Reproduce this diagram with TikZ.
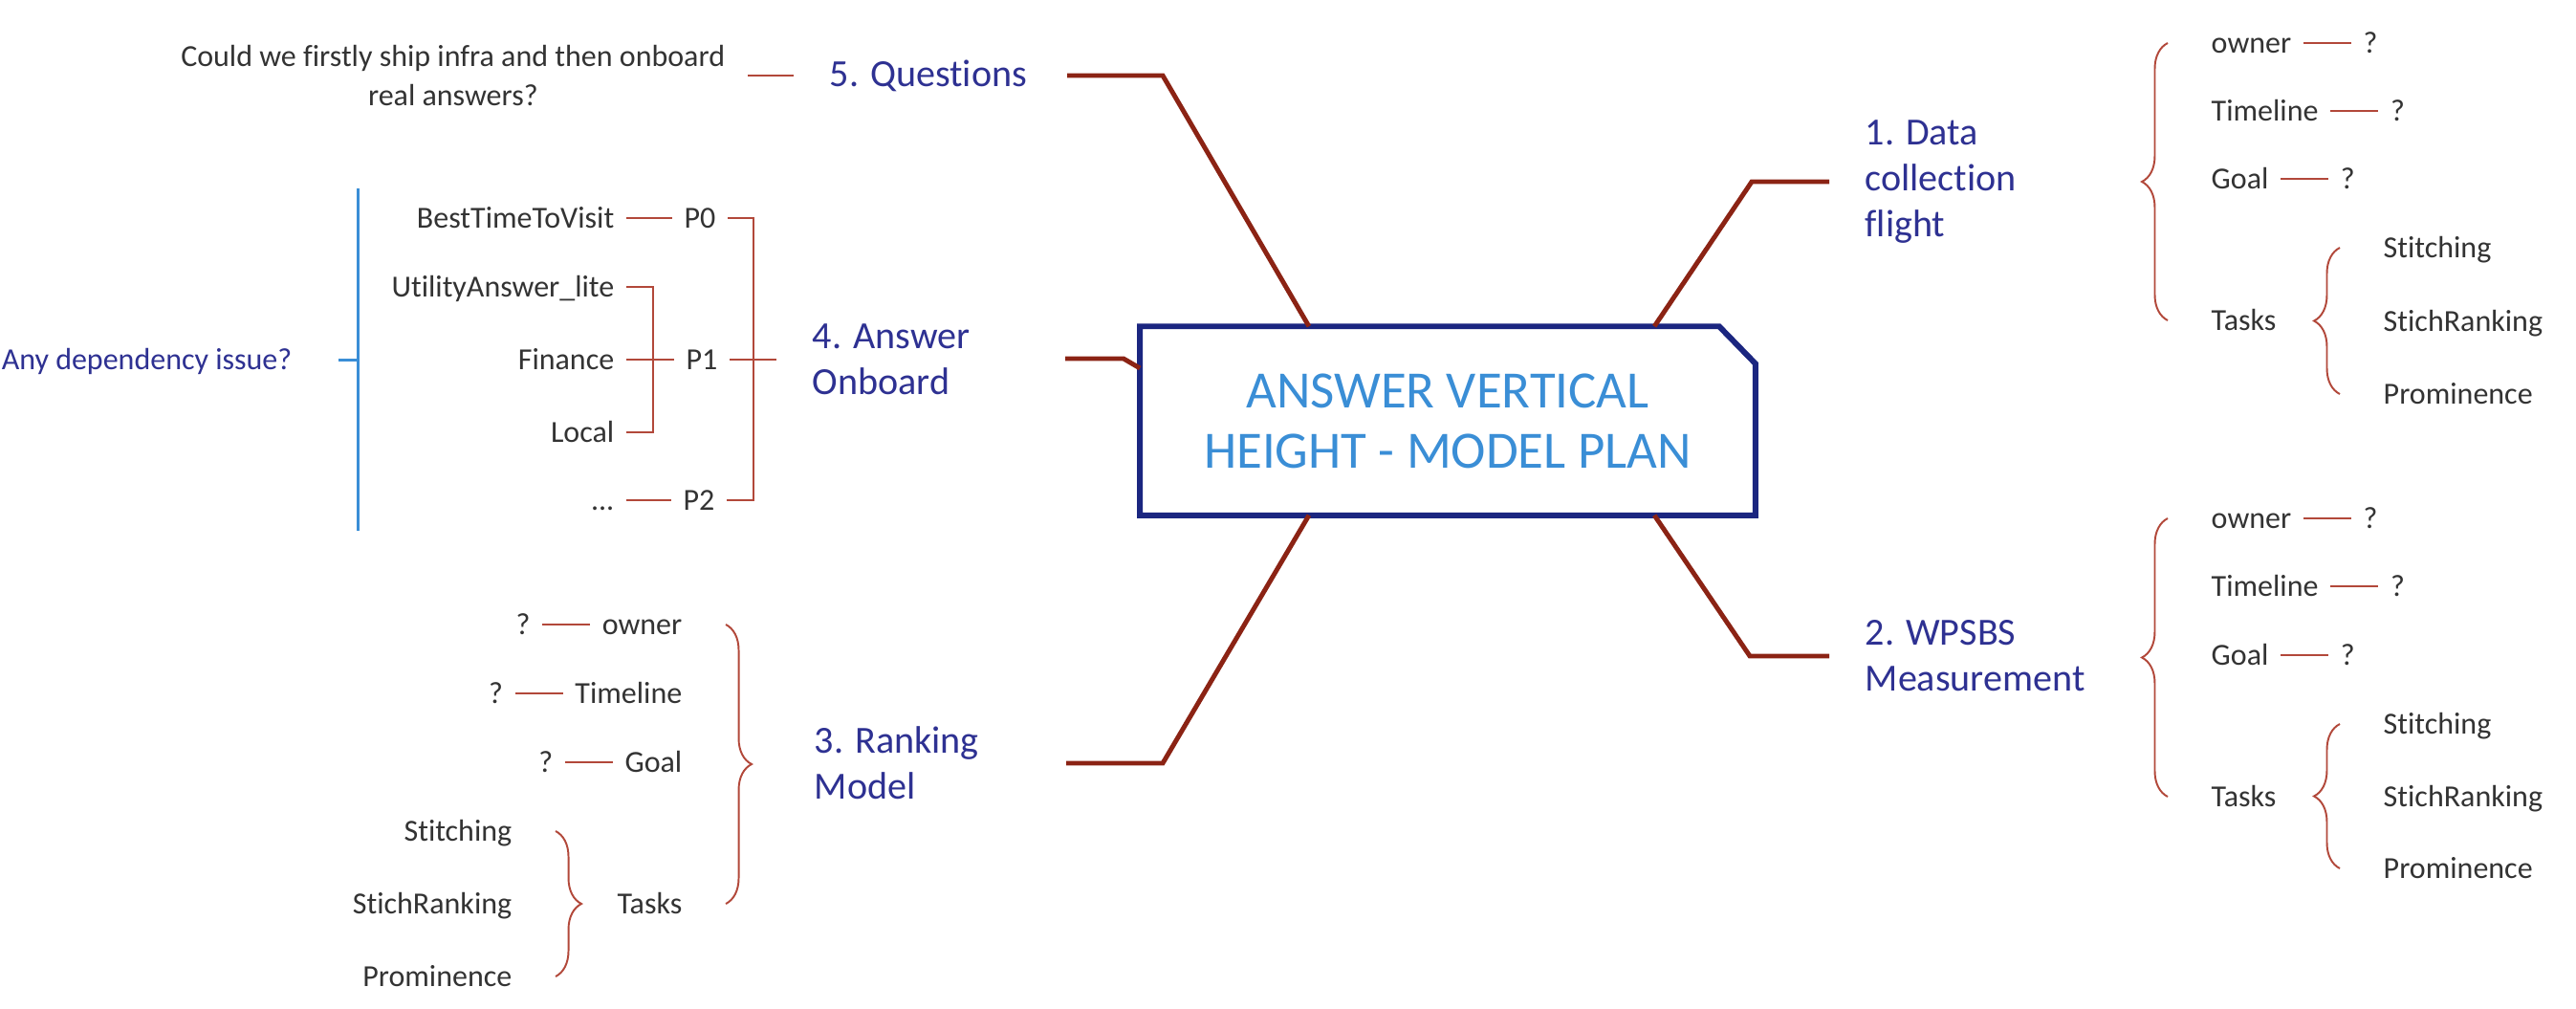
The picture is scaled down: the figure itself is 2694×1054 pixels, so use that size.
\documentclass[tikz,border=0pt]{standalone}
\usepackage{fontspec}
\setmainfont{Carlito}[Ligatures=NoCommon]
\usetikzlibrary{positioning,decorations.pathreplacing}

\definecolor{trunkred}{RGB}{139,35,20}
\definecolor{twigred}{RGB}{178,72,58}
\definecolor{topicblue}{RGB}{46,49,146}
\definecolor{titleblue}{RGB}{58,142,214}
\definecolor{rootblue}{RGB}{27,38,128}
\definecolor{leafgray}{RGB}{51,51,51}

\tikzset{
    rootbox/.style={minimum width=6.42cm, minimum height=1.96cm, inner sep=0pt, align=center, text=titleblue, font=\fontsize{15.6}{17.9}\selectfont},
    rootline/.style={draw=rootblue, line width=1.7pt},
    topic/.style={align=left, inner xsep=0.37cm, inner ysep=0pt, text=topicblue, font=\fontsize{11.4}{13.7}\selectfont},
    leaf/.style={inner xsep=0.12cm, inner ysep=1pt, text height=0.2cm, text depth=0pt, text=leafgray, font=\fontsize{9.1}{11.4}\selectfont},
    note/.style={align=center, inner xsep=0.23cm, inner ysep=0pt, text=leafgray, font=\fontsize{9.1}{11.4}\selectfont},
    trunk/.style={draw=trunkred, line width=1.4pt},
    twig/.style={draw=twigred, line width=0.7pt},
    curly/.style={draw=twigred, line width=0.55pt, decorate, decoration={brace, amplitude=0.27cm}},
    depline/.style={draw=titleblue, line width=0.85pt},
}

\begin{document}
\begin{tikzpicture}[x=0.01cm, y=-0.01cm]
    \useasboundingbox (0,0) rectangle (2694,1054);
    \fill[white] (0,0) rectangle (2694,1054);

    \node[rootbox] (root) at (1514,440) {ANSWER VERTICAL\\HEIGHT - MODEL PLAN};
    \draw[rootline] (root.south west) -- (root.north west) -- ([xshift=-0.38cm]root.north east) -- ([yshift=-0.39cm]root.north east) -- (root.south east) -- cycle;

    \node[topic, anchor=west] (t1) at (1913,190) {1. Data\\collection\\flight};
    \node[topic, anchor=west] (t2) at (1913,686) {2. WPSBS\\Measurement};
    \node[topic, anchor=west] (t3) at (814,798) {3. Ranking\\Model};
    \node[topic, anchor=west] (t4) at (812,376) {4. Answer\\Onboard};
    \node[topic, anchor=west] (t5) at (830,79) {5. Questions};

    \coordinate (k1) at (1832,190);
    \coordinate (k2) at (1830,686);
    \coordinate (e3) at (1115,798);
    \coordinate (k3) at (1216,798);
    \coordinate (e4) at (1114,375);
    \coordinate (k4) at (1175,375);
    \coordinate (e5) at (1116,79);
    \coordinate (k5) at (1216,79);
    \draw[trunk] (t1.west) -- (k1) -- ([xshift=2.16cm]root.north);
    \draw[trunk] (t2.west) -- (k2) -- ([xshift=2.16cm]root.south);
    \draw[trunk] (e3) -- (k3) -- ([xshift=-1.45cm]root.south);
    \draw[trunk] (e4) -- (k4) -- ([yshift=0.55cm]root.west);
    \draw[trunk] (e5) -- (k5) -- ([xshift=-1.45cm]root.north);

    % 1. Data collection flight
    \node[leaf, anchor=west] (own1) at (2300,45) {owner};
    \node[leaf, right=0.5cm of own1] (own1q) {?};
    \node[leaf, anchor=west] (time1) at (2300,116) {Timeline};
    \node[leaf, right=0.5cm of time1] (time1q) {?};
    \node[leaf, anchor=west] (goal1) at (2300,187) {Goal};
    \node[leaf, right=0.5cm of goal1] (goal1q) {?};
    \node[leaf, anchor=west] (task1) at (2300,335) {Tasks};
    \node[leaf, anchor=west] (stit1) at (2480,259) {Stitching};
    \node[leaf, anchor=west] (rank1) at (2480,336) {StichRanking};
    \node[leaf, anchor=west] (prom1) at (2480,412) {Prominence};
    \draw[twig] (own1) -- (own1q);
    \draw[twig] (time1) -- (time1q);
    \draw[twig] (goal1) -- (goal1q);
    \draw[curly] ([xshift=-0.33cm]task1.west) -- ([xshift=-0.33cm]own1.west);
    \draw[curly] ([xshift=-0.33cm]prom1.west) -- ([xshift=-0.33cm]stit1.west);

    % 2. WPSBS Measurement
    \node[leaf, anchor=west] (own2) at (2300,542) {owner};
    \node[leaf, right=0.5cm of own2] (own2q) {?};
    \node[leaf, anchor=west] (time2) at (2300,613) {Timeline};
    \node[leaf, right=0.5cm of time2] (time2q) {?};
    \node[leaf, anchor=west] (goal2) at (2300,685) {Goal};
    \node[leaf, right=0.5cm of goal2] (goal2q) {?};
    \node[leaf, anchor=west] (task2) at (2300,833) {Tasks};
    \node[leaf, anchor=west] (stit2) at (2480,757) {Stitching};
    \node[leaf, anchor=west] (rank2) at (2480,833) {StichRanking};
    \node[leaf, anchor=west] (prom2) at (2480,908) {Prominence};
    \draw[twig] (own2) -- (own2q);
    \draw[twig] (time2) -- (time2q);
    \draw[twig] (goal2) -- (goal2q);
    \draw[curly] ([xshift=-0.33cm]task2.west) -- ([xshift=-0.33cm]own2.west);
    \draw[curly] ([xshift=-0.33cm]prom2.west) -- ([xshift=-0.33cm]stit2.west);

    % 3. Ranking Model
    \node[leaf, anchor=east] (own3) at (726,653) {owner};
    \node[leaf, left=0.5cm of own3] (own3q) {?};
    \node[leaf, anchor=east] (time3) at (726,725) {Timeline};
    \node[leaf, left=0.5cm of time3] (time3q) {?};
    \node[leaf, anchor=east] (goal3) at (726,797) {Goal};
    \node[leaf, left=0.5cm of goal3] (goal3q) {?};
    \node[leaf, anchor=east] (task3) at (726,945) {Tasks};
    \node[leaf, anchor=east] (stit3) at (548,869) {Stitching};
    \node[leaf, anchor=east] (rank3) at (548,945) {StichRanking};
    \node[leaf, anchor=east] (prom3) at (548,1021) {Prominence};
    \draw[twig] (own3) -- (own3q);
    \draw[twig] (time3) -- (time3q);
    \draw[twig] (goal3) -- (goal3q);
    \draw[curly] ([xshift=0.33cm]own3.east) -- ([xshift=0.33cm]task3.east);
    \draw[curly] ([xshift=0.33cm]stit3.east) -- ([xshift=0.33cm]prom3.east);

    % 4. Answer Onboard
    \node[leaf, anchor=east] (best) at (655,228) {BestTimeToVisit};
    \node[leaf, anchor=east] (util) at (655,300) {UtilityAnswer\_lite};
    \node[leaf, anchor=east] (fin) at (655,376) {Finance};
    \node[leaf, anchor=east] (loc) at (655,452) {Local};
    \node[leaf, anchor=east] (more) at (655,523) {...};
    \node[leaf] (p0) at (732,228) {P0};
    \node[leaf] (p1) at (734,376) {P1};
    \node[leaf] (p2) at (731,523) {P2};
    \draw[twig] (best.east) -- (p0.west);
    \draw[twig] (fin.east) -- (p1.west);
    \draw[twig] (more.east) -- (p2.west);
    \draw[twig] (util.east) -| ([xshift=0.28cm]fin.east) |- (loc.east);
    \draw[twig] (p0.east) -| ([xshift=0.25cm]p1.east) |- (p2.east);
    \draw[twig] (p1.east) -- (t4.west);

    \node[leaf, text=topicblue, anchor=east] (dep) at (318,376) {Any dependency issue?};
    \coordinate (dep-top) at (374,197);
    \coordinate (dep-bot) at (374,555);
    \coordinate (dep-tick) at (354,376);
    \draw[depline] (dep-top) -- (dep-bot);
    \draw[depline] (dep-tick) -- (dep-tick -| dep-top);

    % 5. Questions
    \node[note, anchor=east] (ask) at (782,79) {Could we firstly ship infra and then onboard\\real answers?};
    \draw[twig] (ask.east) -- (t5.west);
\end{tikzpicture}
\end{document}
